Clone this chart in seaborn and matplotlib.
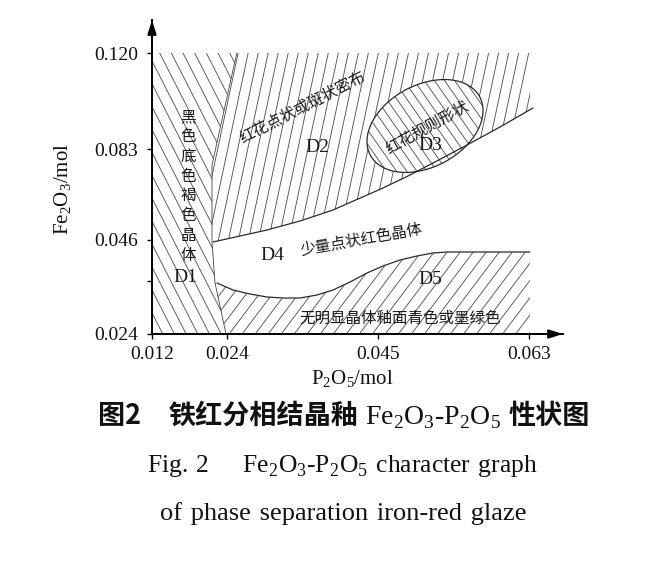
import numpy as np
import matplotlib
matplotlib.use('Agg')
import matplotlib.pyplot as plt
from matplotlib.patches import Polygon, Ellipse
from matplotlib.collections import LineCollection
import seaborn as sns

# ---------------- data (schematic units; the source axes are not to scale) ----------------
x_tick_pos = [0, 75, 226, 377]
x_tick_labels = ['0.012', '0.024', '0.045', '0.063']
y_tick_pos = [0, 94, 185, 281]
y_tick_labels = ['0.024', '0.046', '0.083', '0.120']
y_minor_tick = [53]

# D1 right boundary (top -> bottom)
d1_bound_x = [85, 81, 60, 60, 63, 74]
d1_bound_y = [281, 264, 169, 92, 51, 0]
# D2 / D4 boundary (left -> right)
d4_top_x = [61, 88, 115, 148, 181, 206, 231, 256, 281, 315, 348, 381]
d4_top_y = [92, 98, 104, 113, 124, 135, 146, 158, 171, 189, 207, 226]
# D4 / D5 boundary (left -> right)
d5_top_x = [65, 81, 98, 115, 131, 148, 165, 181, 198, 215, 231, 248, 265, 281, 295, 308, 378]
d5_top_y = [51, 44, 40, 37, 36, 36, 39, 44, 52, 61, 68, 74, 78, 81, 82, 82, 82]
# D3 ellipse
d3_center = (273, 208)
d3_width, d3_height, d3_angle = 124, 82, 28
region_top = 281
region_right = 378

# ---------------- figure ----------------
sns.set_theme(style='white')
plt.rcParams['font.family'] = ['Liberation Serif', 'Noto Sans CJK SC']
plt.rcParams['mathtext.fontset'] = 'custom'
plt.rcParams['mathtext.rm'] = 'Liberation Serif'

W, H = 650, 566
fig = plt.figure(figsize=(W / 100, H / 100), dpi=100)
fig.patch.set_facecolor('white')
ax = fig.add_axes([152 / W, (H - 334) / H, 411 / W, 314 / H])
ax.set_facecolor('white')
ax.set_xlim(0, 411)
ax.set_ylim(0, 314)

HC = '#555555'
HLW = 0.65


def hatch_lines(angle_deg, spacing, clip, z):
    th = np.deg2rad(angle_deg)
    d = np.array([np.cos(th), np.sin(th)])
    n = np.array([-np.sin(th), np.cos(th)])
    segs = [[o * n - 900 * d, o * n + 900 * d] for o in np.arange(-800, 800, spacing)]
    lc = LineCollection(segs, colors=HC, linewidths=HLW, zorder=z)
    ax.add_collection(lc, autolim=False)
    lc.set_clip_path(clip)


def region(xs, ys):
    p = Polygon(np.column_stack([xs, ys]), closed=True, facecolor='none',
                edgecolor='none')
    ax.add_patch(p)
    return p


# D1
d1_x = [0, 0] + d1_bound_x
d1_y = [0, region_top] + d1_bound_y
hatch_lines(117, 10.4, region(d1_x, d1_y), 2)

# D2
d2_x = d1_bound_x[:4] + d4_top_x[1:] + [region_right, region_right]
d2_y = d1_bound_y[:4] + d4_top_y[1:] + [d4_top_y[-1], region_top]
hatch_lines(78, 9.8, region(d2_x, d2_y), 2)

# D5
d5_x = d5_top_x + [region_right, d1_bound_x[-1], d1_bound_x[-2]]
d5_y = d5_top_y + [0, 0, d1_bound_y[-2]]
hatch_lines(53, 10.4, region(d5_x, d5_y), 2)

# D3 ellipse
ax.add_patch(Ellipse(d3_center, d3_width, d3_height, angle=d3_angle,
                     facecolor='white', edgecolor='none', zorder=3))
ell_clip = Ellipse(d3_center, d3_width, d3_height, angle=d3_angle,
                   facecolor='none', edgecolor='none')
ax.add_patch(ell_clip)
hatch_lines(125, 8.3, ell_clip, 4)
ax.add_patch(Ellipse(d3_center, d3_width, d3_height, angle=d3_angle,
                     facecolor='none', edgecolor='#2a2a2a', lw=0.9, zorder=5))

# boundary lines
sns.lineplot(x=d4_top_x, y=d4_top_y, sort=False, estimator=None, color='#2a2a2a',
             lw=0.9, ax=ax, zorder=5)
sns.lineplot(x=d5_top_x, y=d5_top_y, sort=False, estimator=None, color='#2a2a2a',
             lw=0.9, ax=ax, zorder=5)
sns.lineplot(x=d1_bound_x, y=d1_bound_y, sort=False, estimator=None, color='#444444',
             lw=0.6, ax=ax, zorder=5)

# axes styling
for s in ['top', 'right']:
    ax.spines[s].set_visible(False)
for s in ['left', 'bottom']:
    ax.spines[s].set_color('black')
    ax.spines[s].set_linewidth(1.4)
ax.set_xticks(x_tick_pos)
ax.set_xticklabels(x_tick_labels)
ax.set_yticks(y_tick_pos)
ax.set_yticklabels(y_tick_labels)
ax.set_yticks(y_minor_tick, minor=True)
ax.tick_params(axis='both', which='both', direction='out', length=3.5, width=1,
               color='black', labelsize=14, labelcolor='#111111',
               left=True, bottom=True)
ax.tick_params(axis='y', pad=6.5)
ax.tick_params(axis='x', pad=5)
ax.grid(False)

arrow = dict(arrowstyle='-|>,head_length=0.7,head_width=0.22', color='black',
             lw=1.4, shrinkA=0, shrinkB=0)
ax.annotate('', xy=(1.0, 0), xytext=(0.9, 0), xycoords='axes fraction',
            arrowprops=arrow, annotation_clip=False)
ax.annotate('', xy=(0, 1.0), xytext=(0, 0.9), xycoords='axes fraction',
            arrowprops=arrow, annotation_clip=False)

ax.set_ylabel('Fe$_\\mathregular{2}$O$_\\mathregular{3}$/mol', fontsize=15,
              color='#111111')
ax.yaxis.set_label_coords(-0.19, 0.462)
ax.set_xlabel('P$_\\mathregular{2}$O$_\\mathregular{5}$/mol', fontsize=15,
              color='#111111')
ax.xaxis.set_label_coords(0.487, -0.108)

# region texts
CJK = ['Noto Sans CJK SC', 'DejaVu Sans']
tc = '#1a1a1a'
cs = 11.2
ax.text(36, 148, '\n'.join('黑色底色褐色晶体'), family=CJK, fontsize=cs,
        ha='center', va='center', linespacing=1.21, color=tc, zorder=6)
ax.text(33, 57, 'D1', fontsize=14, ha='center', va='center', color=tc, zorder=6)
ax.text(151, 226, '红花点状或斑状密布', family=CJK, fontsize=cs, rotation=27,
        ha='center', va='center', rotation_mode='anchor', color=tc, zorder=6)
ax.text(165, 187, 'D2', fontsize=14, ha='center', va='center', color=tc, zorder=6)
ax.text(275, 207, '红花规则形状', family=CJK, fontsize=cs, rotation=29,
        ha='center', va='center', rotation_mode='anchor', color=tc, zorder=6)
ax.text(278, 189, 'D3', fontsize=14, ha='center', va='center', color=tc, zorder=6)
ax.text(120, 79, 'D4', fontsize=14, ha='center', va='center', color=tc, zorder=6)
ax.text(209, 94, '少量点状红色晶体', family=CJK, fontsize=cs, rotation=10,
        ha='center', va='center', rotation_mode='anchor', color=tc, zorder=6)
ax.text(278, 54, 'D5', fontsize=14, ha='center', va='center', color=tc, zorder=6)
ax.text(248, 16, '无明显晶体釉面青色或墨绿色', family=CJK, fontsize=cs,
        ha='center', va='center', color=tc, zorder=6)

# captions
fig.canvas.draw()
renderer = fig.canvas.get_renderer()


def place_row(pieces, cx, y_base):
    texts = []
    for s, kw in pieces:
        t = fig.text(0, 1 - y_base / H, s, ha='left', va='baseline', color='#111111', **kw)
        texts.append(t)
    widths = [t.get_window_extent(renderer).width for t in texts]
    total = sum(widths)
    x = cx - total / 2
    for t, w in zip(texts, widths):
        t.set_x(x / W)
        x += w


formula = 'Fe$_\\mathregular{2}$O$_\\mathregular{3}$-P$_\\mathregular{2}$O$_\\mathregular{5}$'
cjk_bold = dict(family=['Noto Sans CJK SC'], fontweight='bold', fontsize=19.5)
serif = dict(family=['Liberation Serif'], fontsize=20)
sp = '\u2004'
place_row([('图2', cjk_bold), ('\u3000', cjk_bold), ('铁红分相结晶釉', cjk_bold),
           ('\u00a0', serif), (formula, serif), ('\u00a0', serif), ('性状图', cjk_bold)],
          344, 424)
place_row([('Fig.' + sp + '2\u2003' + sp + formula + sp + 'character' + sp + 'graph',
            dict(family=['Liberation Serif', 'DejaVu Serif'], fontsize=18.4))], 342, 472)
place_row([(sp.join('of phase separation iron-red glaze'.split(' ')),
            dict(family=['Liberation Serif', 'DejaVu Serif'], fontsize=19))],
          343, 520)

fig.savefig('out.png', dpi=100, facecolor='white')
